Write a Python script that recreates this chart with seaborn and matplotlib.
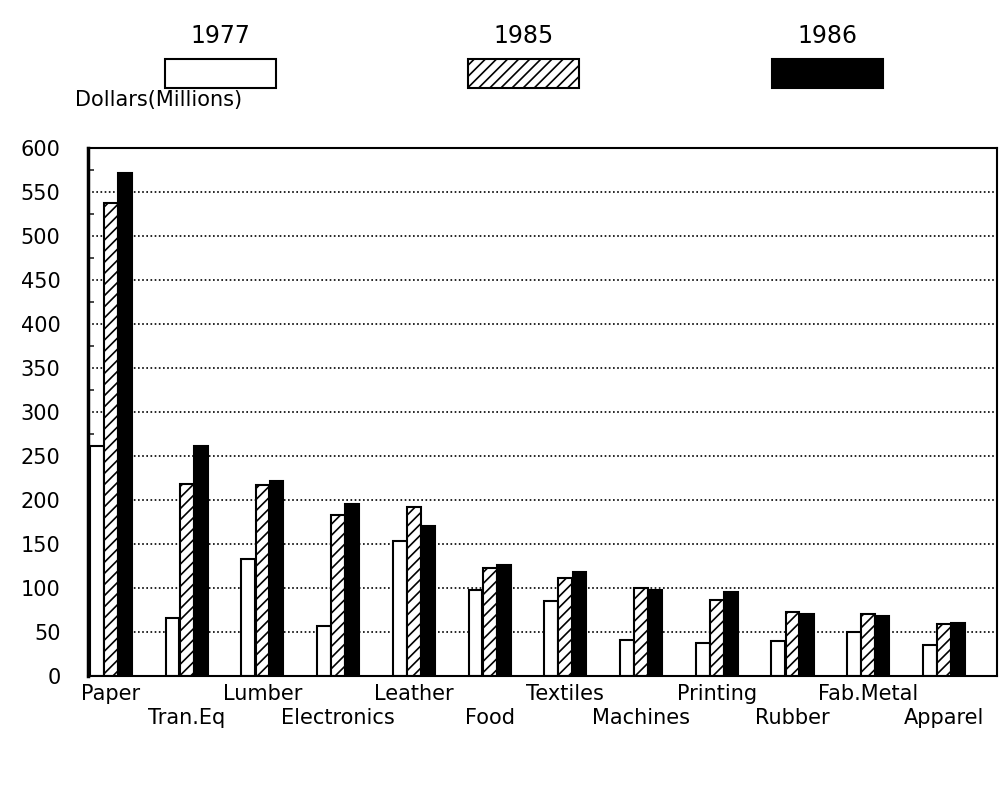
import pandas as pd
import matplotlib
matplotlib.use("Agg")
import matplotlib.pyplot as plt
import seaborn as sns
from matplotlib.patches import Rectangle
from matplotlib.ticker import MultipleLocator

# Du lieu doc tu hinh
categories = ["Paper", "Tran.Eq", "Lumber", "Electronics", "Leather", "Food",
              "Textiles", "Machines", "Printing", "Rubber", "Fab.Metal", "Apparel"]
years = ["1977", "1985", "1986"]
vals_1977 = [262, 66, 133, 57, 153, 98, 85, 41, 37, 40, 50, 35]
vals_1985 = [538, 218, 217, 183, 192, 123, 112, 100, 87, 73, 70, 59]
vals_1986 = [572, 262, 222, 196, 170, 126, 118, 98, 96, 71, 68, 60]

df = pd.DataFrame({
    "Category": categories * 3,
    "Year": [years[0]] * 12 + [years[1]] * 12 + [years[2]] * 12,
    "Value": vals_1977 + vals_1985 + vals_1986,
})

sns.set_theme(style="white")
plt.rcParams['font.family'] = ['DejaVu Sans']
plt.rcParams['text.color'] = 'black'
plt.rcParams['hatch.linewidth'] = 1.2

fig = plt.figure(figsize=(10.03, 8.01), dpi=100)
ax = fig.add_axes([0.088, 0.156, 0.906, 0.659])

palette = {"1977": "white", "1985": "white", "1986": "black"}
sns.barplot(data=df, x="Category", y="Value", hue="Year", order=categories,
            hue_order=years, palette=palette, width=0.56, gap=0.02,
            edgecolor="black", linewidth=1.5, legend=False, ax=ax)
for bar in ax.containers[1]:
    bar.set_hatch("///")

ax.set_xlim(-0.30, 11.70)
ax.set_ylim(0, 600)
ax.yaxis.set_major_locator(MultipleLocator(50))
ax.yaxis.set_minor_locator(MultipleLocator(25))
ax.yaxis.grid(True, which="major", color="black", linestyle=(0, (1, 1.5)), linewidth=1.2)
ax.set_axisbelow(True)
ax.tick_params(axis="y", which="major", direction="in", length=7, width=1.5,
               labelsize=15, pad=20, colors="black")
ax.tick_params(axis="y", which="minor", direction="in", length=4, width=1.2, left=True)

# ten nhom xen ke hai hang: chan o hang tren, le o hang duoi
even_idx = list(range(0, len(categories), 2))
odd_idx = list(range(1, len(categories), 2))
ax.set_xticks(even_idx)
ax.set_xticklabels([categories[i] for i in even_idx])
ax.set_xticks(odd_idx, minor=True)
ax.set_xticklabels([categories[i] for i in odd_idx], minor=True)
ax.tick_params(axis="x", which="major", length=0, labelsize=15, pad=6, colors="black")
ax.tick_params(axis="x", which="minor", length=0, labelsize=15, pad=23, colors="black", bottom=True)

for s in ax.spines.values():
    s.set_visible(True)
    s.set_color("black")
    s.set_linewidth(1.5)
ax.spines["left"].set_linewidth(2.5)
ax.set_xlabel("")
ax.set_ylabel("")
fig.text(0.075, 0.875, "Dollars(Millions)", fontsize=15, ha="left", va="center", color="black")

# Chu thich o tren cung
styles = [("white", None), ("white", "///"), ("black", None)]
centers = [0.22, 0.522, 0.825]
for yr, (fc, hatch), cx in zip(years, styles, centers):
    fig.text(cx, 0.955, yr, fontsize=17, ha="center", va="center", color="black")
    fig.add_artist(Rectangle((cx - 0.055, 0.89), 0.11, 0.036, transform=fig.transFigure,
                             facecolor=fc, edgecolor="black", hatch=hatch, linewidth=1.5))

fig.savefig("out.png", dpi=100, facecolor="white")
